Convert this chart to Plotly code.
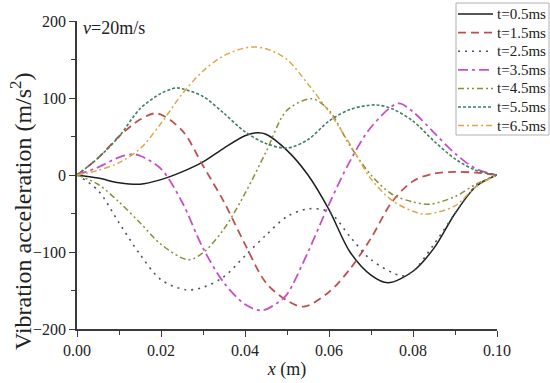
import plotly.graph_objects as go

# ---- data ----
x_05 = [0, 0.005, 0.01, 0.015, 0.02, 0.025, 0.03, 0.035, 0.04, 0.043, 0.045, 0.05, 0.055, 0.06, 0.065, 0.07, 0.074, 0.08, 0.085, 0.09, 0.095, 0.1]
y_05 = [0, -4, -10, -12, -6, 4, 17, 35, 51, 55, 53, 32, 0, -45, -100, -130, -140, -125, -95, -50, -15, 0]

x_15 = [0, 0.005, 0.01, 0.015, 0.019, 0.025, 0.03, 0.035, 0.04, 0.045, 0.05, 0.054, 0.06, 0.065, 0.07, 0.075, 0.08, 0.085, 0.09, 0.095, 0.1]
y_15 = [0, 22, 50, 72, 80, 58, 12, -35, -90, -140, -163, -171, -152, -122, -82, -35, -8, 2, 4, 3, 0]

x_25 = [0, 0.005, 0.01, 0.015, 0.02, 0.026, 0.03, 0.035, 0.04, 0.045, 0.05, 0.055, 0.06, 0.065, 0.07, 0.0775, 0.08, 0.085, 0.09, 0.095, 0.1]
y_25 = [0, -20, -62, -103, -136, -149, -146, -132, -105, -78, -54, -44, -48, -80, -110, -131, -125, -90, -50, -14, 0]

x_35 = [0, 0.005, 0.01, 0.0133, 0.015, 0.02, 0.025, 0.03, 0.035, 0.04, 0.044, 0.048, 0.05, 0.055, 0.06, 0.065, 0.07, 0.0765, 0.08, 0.085, 0.09, 0.095, 0.1]
y_35 = [0, 10, 23, 27, 25, 8, -35, -95, -140, -168, -176, -165, -155, -100, -38, 18, 62, 93, 82, 55, 28, 8, 0]

x_45 = [0, 0.005, 0.01, 0.015, 0.02, 0.0264, 0.03, 0.035, 0.04, 0.045, 0.05, 0.056, 0.06, 0.065, 0.07, 0.075, 0.08, 0.084, 0.09, 0.095, 0.1]
y_45 = [0, -12, -35, -62, -90, -110, -101, -70, -24, 30, 84, 99, 84, 38, 0, -25, -35, -38, -28, -12, 0]

x_55 = [0, 0.005, 0.01, 0.015, 0.02, 0.0235, 0.025, 0.03, 0.035, 0.04, 0.045, 0.05, 0.055, 0.06, 0.065, 0.071, 0.075, 0.08, 0.085, 0.09, 0.095, 0.1]
y_55 = [0, 22, 50, 86, 106, 113, 112, 102, 80, 56, 41, 35, 46, 70, 85, 91, 86, 70, 44, 21, 6, 0]

x_65 = [0, 0.005, 0.01, 0.015, 0.02, 0.025, 0.03, 0.035, 0.041, 0.045, 0.05, 0.055, 0.06, 0.065, 0.07, 0.075, 0.08, 0.083, 0.09, 0.095, 0.1]
y_65 = [0, 6, 16, 34, 67, 105, 135, 155, 166, 164, 150, 118, 82, 40, -5, -33, -47, -51, -40, -15, 0]

names = ["t=0.5ms", "t=1.5ms", "t=2.5ms", "t=3.5ms", "t=4.5ms", "t=5.5ms", "t=6.5ms"]
xs = [x_05, x_15, x_25, x_35, x_45, x_55, x_65]
ys = [y_05, y_15, y_25, y_35, y_45, y_55, y_65]

x_ticks = [0, 0.02, 0.04, 0.06, 0.08, 0.10]
y_ticks = [-200, -100, 0, 100, 200]

colors = ["#1e1e1e", "#c0504d", "#4a5068", "#c84fc8", "#8c8c3a", "#3f7f5f", "#dba94c"]
dashes = ["solid", "8px,5px", "2px,5px", "10px,4px,3px,4px", "6px,3px,2px,3px,2px,3px", "3px,2px", "6px,3px,2px,3px"]
widths = [1.5, 1.8, 1.6, 1.8, 1.5, 1.6, 1.5]

FONT = "Liberation Serif, Times New Roman, serif"
W, H = 550, 383
L, R, T, B = 77, 497, 21, 329  # plot area in pixels


def px(xp):
    return (xp - L) / (R - L)


def py(yp):
    return (B - yp) / (B - T)


fig = go.Figure()
for n, xv, yv, c, d, w in zip(names, xs, ys, colors, dashes, widths):
    fig.add_trace(go.Scatter(x=xv, y=yv, name=n, mode="lines", showlegend=False,
                             line=dict(color=c, dash=d, width=w, shape="spline", smoothing=0.9)))

axis_common = dict(showline=True, linecolor="#3a3a3a", linewidth=1.5, ticks="outside",
                   ticklen=6, tickwidth=1.2, tickcolor="#3a3a3a", showgrid=False, zeroline=False,
                   mirror=False, automargin=False,
                   tickfont=dict(family=FONT, size=16, color="#222"))

fig.update_layout(
    width=W, height=H,
    margin=dict(l=L, r=W - R, t=T, b=H - B),
    paper_bgcolor="white", plot_bgcolor="white",
    font=dict(family=FONT, color="#222"),
    xaxis=dict(range=[0, 0.1], tickvals=x_ticks, tickformat=".2f",
               minor=dict(ticks="outside", ticklen=4, dtick=0.01, tickcolor="#3a3a3a", tickwidth=1.2),
               title=dict(text="<i>x</i> (m)", font=dict(family=FONT, size=18), standoff=4),
               **axis_common),
    yaxis=dict(range=[-200, 200], tickvals=y_ticks,
               minor=dict(ticks="outside", ticklen=4, dtick=50, tickcolor="#3a3a3a", tickwidth=1.2),
               **axis_common),
    showlegend=False,
)

# y axis title (rotated text)
fig.add_annotation(x=px(21), y=py(211), xref="paper", yref="paper", textangle=-90,
                   text="Vibration acceleration (m/s<sup>2</sup>)", showarrow=False,
                   xanchor="center", yanchor="middle",
                   font=dict(family=FONT, size=24, color="#222"))

# speed label
fig.add_annotation(x=px(81), y=py(28), xref="paper", yref="paper", xanchor="left", yanchor="middle",
                   text="<i>v</i>=20m/s", showarrow=False,
                   font=dict(family=FONT, size=18, color="#222"))

# legend box
fig.add_shape(type="rect", xref="paper", yref="paper", x0=px(456), x1=px(549), y0=py(135), y1=py(3),
              line=dict(color="#b0b0b0", width=1), fillcolor="white", layer="above")
for i, (n, c, d, w) in enumerate(zip(names, colors, dashes, widths)):
    yc = 14 + 18.6 * i
    fig.add_shape(type="line", xref="paper", yref="paper", x0=px(458), x1=px(493), y0=py(yc), y1=py(yc),
                  line=dict(color=c, dash=d, width=w), layer="above")
    fig.add_annotation(x=px(495), y=py(yc), xref="paper", yref="paper", xanchor="left", yanchor="middle",
                       text=n, showarrow=False, font=dict(family=FONT, size=15, color="#222"))

fig.write_html("out.html", config={"displayModeBar": False},
               post_script="document.body.style.margin='0';document.body.style.overflow='hidden';")
